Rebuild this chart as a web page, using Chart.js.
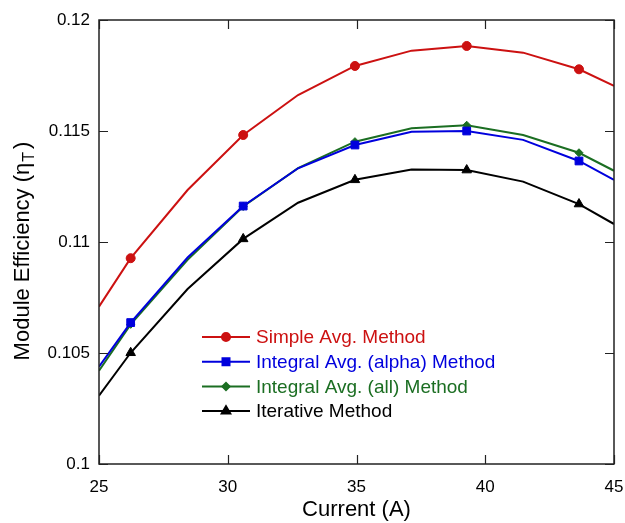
<!DOCTYPE html>
<html>
<head>
<meta charset="utf-8">
<script src="https://cdn.jsdelivr.net/npm/chart.js@4/dist/chart.umd.min.js"></script>
<style>
html,body{margin:0;padding:0;background:#fff;}
#wrap{width:625px;height:523px;position:relative;}
</style>
</head>
<body>
<div id="wrap"><canvas id="c" width="625" height="523"></canvas></div>
<script>
// ---- data ----
const current = [25, 26.23, 28.44, 30.6, 32.73, 34.94, 37.14, 39.28, 41.47, 43.64, 45];
const markerAt = [false, true, false, true, false, true, false, true, false, true, false];
const simpleAvg = [0.10709, 0.10927, 0.11234, 0.11482, 0.11662, 0.11793, 0.11862, 0.11883, 0.11853, 0.11778, 0.11703];
const integralAlpha = [0.10438, 0.10637, 0.10930, 0.11162, 0.11332, 0.11437, 0.11497, 0.11500, 0.11460, 0.11365, 0.11280];
const integralAll = [0.10420, 0.10629, 0.10920, 0.11160, 0.11333, 0.11452, 0.11512, 0.11526, 0.11482, 0.11402, 0.11321];
const iterative = [0.10308, 0.10501, 0.10788, 0.11014, 0.11177, 0.11280, 0.11327, 0.11324, 0.11272, 0.11171, 0.11081];
const seriesLabels = ["Simple Avg. Method", "Integral Avg. (alpha) Method", "Integral Avg. (all) Method", "Iterative Method"];
const yTicks = [0.1, 0.105, 0.11, 0.115, 0.12];
const xTicks = [25, 30, 35, 40, 45];

const FONT = "'Liberation Sans', Arial, sans-serif";
const styles = [
  {color:'#cc1111', shape:'circle', r:4.5},
  {color:'#0000dd', shape:'rect', r:5.5},
  {color:'#1b6e22', shape:'rectRot', r:4},
  {color:'#000000', shape:'triangle', r:5.5}
];
const series = [simpleAvg, integralAlpha, integralAll, iterative];

const datasets = series.map((vals, i) => ({
  label: seriesLabels[i],
  data: current.map((x, k) => ({x: x, y: vals[k]})),
  borderColor: styles[i].color,
  backgroundColor: styles[i].color,
  borderWidth: 2,
  pointStyle: styles[i].shape,
  pointRadius: current.map((x, k) => markerAt[k] ? styles[i].r : 0),
  pointBorderWidth: 1,
  pointHoverRadius: 0,
  tension: 0,
  clip: 0
}));

const framePlugin = {
  id: 'frame',
  afterDraw(chart) {
    const ctx = chart.ctx, a = chart.chartArea;
    const xs = chart.scales.x, ys = chart.scales.y;
    ctx.save();
    ctx.strokeStyle = '#222';
    ctx.lineWidth = 1.5;
    ctx.strokeRect(a.left, a.top, a.right - a.left, a.bottom - a.top);
    ctx.lineWidth = 1.2;
    const L = 9;
    xTicks.forEach(v => {
      const px = Math.round(xs.getPixelForValue(v)) + 0.5;
      ctx.beginPath();
      ctx.moveTo(px, a.bottom); ctx.lineTo(px, a.bottom - L);
      ctx.moveTo(px, a.top); ctx.lineTo(px, a.top + L);
      ctx.stroke();
    });
    yTicks.forEach(v => {
      const py = Math.round(ys.getPixelForValue(v)) + 0.5;
      ctx.beginPath();
      ctx.moveTo(a.left, py); ctx.lineTo(a.left + L, py);
      ctx.moveTo(a.right, py); ctx.lineTo(a.right - L, py);
      ctx.stroke();
    });
    // y-axis title with subscript
    ctx.fillStyle = '#000';
    ctx.translate(23, 251);
    ctx.rotate(-Math.PI / 2);
    ctx.textBaseline = 'middle';
    const big = '22px ' + FONT, small = '16px ' + FONT;
    const p1 = 'Module Efficiency (\u03b7', p2 = 'T', p3 = ')';
    ctx.font = big; const w1 = ctx.measureText(p1).width, w3 = ctx.measureText(p3).width;
    ctx.font = small; const w2 = ctx.measureText(p2).width;
    let x0 = -(w1 + w2 + w3 + 4) / 2;
    ctx.font = big; ctx.textAlign = 'left';
    ctx.fillText(p1, x0, 0);
    ctx.font = small; ctx.fillText(p2, x0 + w1 + 1, 7);
    ctx.font = big; ctx.fillText(p3, x0 + w1 + w2 + 4, 0);
    ctx.restore();

    // legend
    ctx.save();
    const lx0 = 202, lx1 = 250, tx = 256, y0 = 337, dy = 24.7;
    ctx.font = '19px ' + FONT;
    ctx.textBaseline = 'middle';
    chart.data.datasets.forEach((ds, i) => {
      const y = y0 + i * dy;
      ctx.strokeStyle = ds.borderColor; ctx.lineWidth = 2;
      ctx.beginPath(); ctx.moveTo(lx0, y); ctx.lineTo(lx1, y); ctx.stroke();
      ctx.fillStyle = ds.borderColor;
      Chart.helpers.drawPoint(ctx, {pointStyle: styles[i].shape, radius: styles[i].r * 0.9, borderWidth: 1, rotation: 0}, (lx0 + lx1) / 2, y);
      ctx.fill();
      ctx.fillStyle = ds.borderColor;
      ctx.fillText(ds.label, tx, y + 1);
    });
    ctx.restore();
  }
};

new Chart(document.getElementById('c'), {
  type: 'line',
  data: {datasets},
  options: {
    responsive: false,
    animation: false,
    events: [],
    layout: {padding: {left: 0, right: 0, top: 20, bottom: 0}},
    plugins: {legend: {display: false}, tooltip: {enabled: false}},
    scales: {
      x: {
        type: 'linear', min: 25, max: 45,
        afterBuildTicks: s => { s.ticks = xTicks.map(v => ({value: v})); },
        afterFit: s => { s.height = 59; s.paddingRight = 11; },
        grid: {display: false, drawTicks: false},
        border: {display: false},
        ticks: {color: '#000', font: {family: FONT, size: 17}, padding: 13, maxRotation: 0},
        title: {display: true, text: 'Current (A)', color: '#000', font: {family: FONT, size: 22}, padding: {top: 1, bottom: 0}}
      },
      y: {
        type: 'linear', min: 0.1, max: 0.12,
        afterBuildTicks: s => { s.ticks = yTicks.map(v => ({value: v})); },
        afterFit: s => { s.width = 99; },
        grid: {display: false, drawTicks: false},
        border: {display: false},
        ticks: {color: '#000', font: {family: FONT, size: 17}, padding: 9, callback: v => String(+v.toFixed(3))}
      }
    }
  },
  plugins: [framePlugin]
});
</script>
</body>
</html>
